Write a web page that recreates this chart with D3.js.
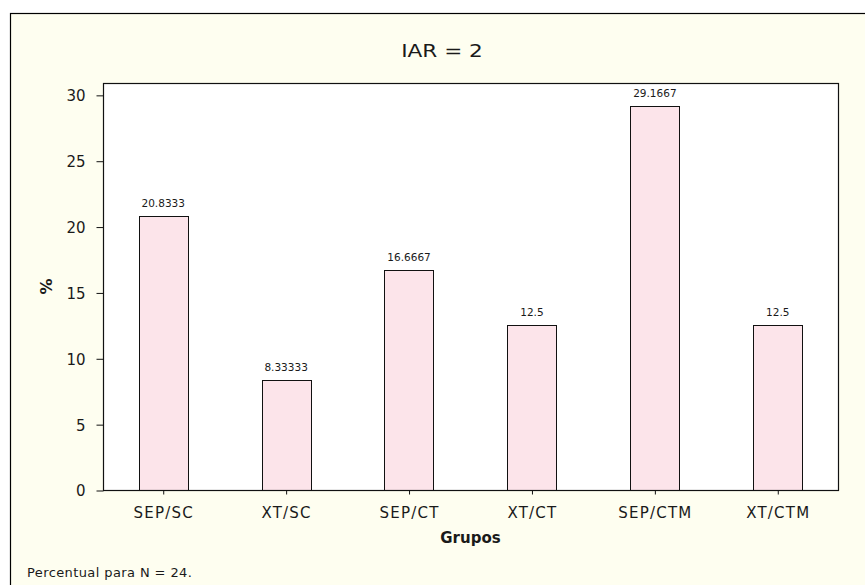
<!DOCTYPE html>
<html>
<head>
<meta charset="utf-8">
<script src="https://cdn.jsdelivr.net/npm/d3@7"></script>
<style>
  html, body { margin: 0; padding: 0; background: #ffffff; }
  svg { display: block; }
  text { font-family: "DejaVu Sans", Verdana, sans-serif; fill: #1a1a1a; }
</style>
</head>
<body>
<svg id="chart" width="865" height="585"></svg>
<script>
// Percent of cases per group (N = 24)
const groups = ["SEP/SC", "XT/SC", "SEP/CT", "XT/CT", "SEP/CTM", "XT/CTM"];
const percents = [20.8333, 8.33333, 16.6667, 12.5, 29.1667, 12.5];
const valueLabels = ["20.8333", "8.33333", "16.6667", "12.5", "29.1667", "12.5"];
const yTicks = [0, 5, 10, 15, 20, 25, 30];

const titleText = "IAR = 2";
const xTitle = "Grupos";
const yTitle = "%";
const footnote = "Percentual para N = 24.";

const svg = d3.select("#chart");
const W = 865, H = 585;

// Figure panel
svg.append("rect")
  .attr("x", 10.5).attr("y", 13.5)
  .attr("width", W).attr("height", H)
  .attr("fill", "#fefef0")
  .attr("stroke", "#000").attr("stroke-width", 1.2);

const plot = { left: 103, right: 838, top: 83, bottom: 490 };

const x = d3.scaleBand()
  .domain(groups)
  .range([plot.left, plot.right])
  .paddingInner(0.6)
  .paddingOuter(0.29);

const y = d3.scaleLinear()
  .domain([0, 30.9])
  .range([plot.bottom, plot.top]);

// Data region
svg.append("rect")
  .attr("x", plot.left + 0.5).attr("y", plot.top + 0.5)
  .attr("width", plot.right - plot.left).attr("height", plot.bottom - plot.top)
  .attr("fill", "#ffffff");

// Bars
svg.append("g").selectAll("rect")
  .data(percents)
  .join("rect")
  .attr("x", (d, i) => Math.round(x(groups[i])) + 0.5)
  .attr("y", d => Math.round(y(d)) + 0.5)
  .attr("width", Math.round(x.bandwidth()))
  .attr("height", d => Math.round(y(0)) - Math.round(y(d)))
  .attr("fill", "#fce4ea")
  .attr("stroke", "#111")
  .attr("stroke-width", 1);

// Value labels above bars
svg.append("g").selectAll("text")
  .data(percents)
  .join("text")
  .attr("x", (d, i) => x(groups[i]) + x.bandwidth() / 2)
  .attr("y", d => y(d) - 9)
  .attr("text-anchor", "middle")
  .attr("font-size", 10.5)
  .text((d, i) => valueLabels[i]);

// Frame around data region
svg.append("rect")
  .attr("x", plot.left + 0.5).attr("y", plot.top + 0.5)
  .attr("width", plot.right - plot.left).attr("height", plot.bottom - plot.top)
  .attr("fill", "none")
  .attr("stroke", "#111").attr("stroke-width", 1.2);

// Y axis
const yAxis = svg.append("g")
  .attr("transform", `translate(${plot.left + 0.5},0.5)`)
  .call(d3.axisLeft(y).tickValues(yTicks).tickSize(7).tickPadding(11).tickFormat(d3.format("d")));
yAxis.select(".domain").remove();
yAxis.selectAll("line").attr("stroke", "#111");
yAxis.selectAll("text")
  .attr("font-size", 15)
  .attr("font-family", "DejaVu Sans, sans-serif")
  .attr("fill", "#1a1a1a")
  .attr("dy", "0.36em");

// X axis
const xAxis = svg.append("g")
  .attr("transform", `translate(0.5,${plot.bottom + 0.5})`)
  .call(d3.axisBottom(x).tickSize(4).tickPadding(13));
xAxis.select(".domain").remove();
xAxis.selectAll("line").attr("stroke", "#111");
xAxis.selectAll("text")
  .attr("font-size", 15)
  .attr("font-family", "DejaVu Sans, sans-serif")
  .attr("fill", "#1a1a1a")
  .attr("letter-spacing", 1.2);

// Title
svg.append("text")
  .attr("transform", "translate(442,57) scale(1.2,1)")
  .attr("text-anchor", "middle")
  .attr("font-size", 18)
  .text(titleText);

// Axis titles
svg.append("text")
  .attr("x", (plot.left + plot.right) / 2)
  .attr("y", 543)
  .attr("text-anchor", "middle")
  .attr("font-size", 15)
  .attr("font-weight", "bold")
  .text(xTitle);

svg.append("text")
  .attr("transform", `translate(52,${(plot.top + plot.bottom) / 2}) rotate(-90)`)
  .attr("text-anchor", "middle")
  .attr("font-size", 16)
  .attr("font-weight", "bold")
  .text(yTitle);

// Footnote
svg.append("text")
  .attr("x", 27)
  .attr("y", 577)
  .attr("font-size", 13)
  .attr("letter-spacing", 0.4)
  .text(footnote);
</script>
</body>
</html>
